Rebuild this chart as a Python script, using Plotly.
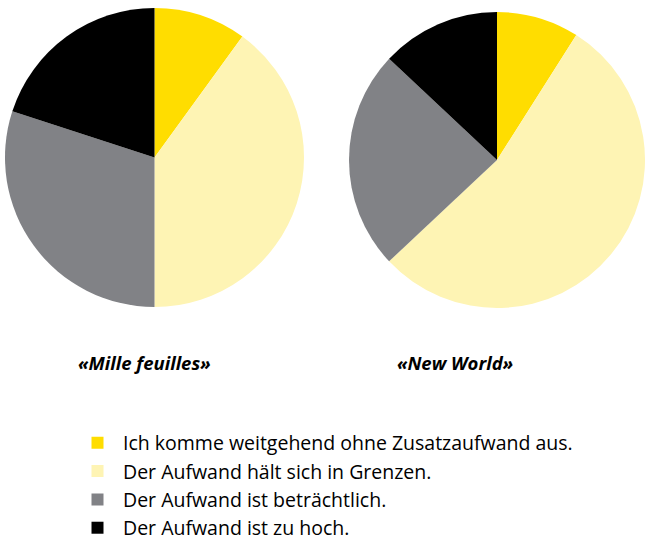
import plotly.graph_objects as go

labels = [
    "Ich komme weitgehend ohne Zusatzaufwand aus.",
    "Der Aufwand hält sich in Grenzen.",
    "Der Aufwand ist beträchtlich.",
    "Der Aufwand ist zu hoch.",
]
mille_feuilles = [10, 40, 30, 20]
new_world = [9, 54, 24, 13]
titles = ["«Mille feuilles»", "«New World»"]
colors = ["#FFDD00", "#FEF4B4", "#818286", "#000000"]

W, H = 645, 543

fig = go.Figure()
fig.add_trace(go.Pie(
    labels=labels, values=mille_feuilles, sort=False, direction="clockwise", rotation=0,
    marker=dict(colors=colors, line=dict(width=0)), textinfo="none",
    domain=dict(x=[5 / W, 304 / W], y=[(H - 307) / H, (H - 8) / H]),
    showlegend=True,
))
fig.add_trace(go.Pie(
    labels=labels, values=new_world, sort=False, direction="clockwise", rotation=0,
    marker=dict(colors=colors, line=dict(width=0)), textinfo="none",
    domain=dict(x=[349 / W, 1.0], y=[(H - 309) / H, (H - 11) / H]),
    showlegend=False,
))

for t, cx in zip(titles, [144, 455]):
    fig.add_annotation(text="<b><i>" + t + "</i></b>", x=cx / W, y=(H - 362) / H,
                       xref="paper", yref="paper", showarrow=False,
                       xanchor="center", yanchor="middle",
                       font=dict(size=18.5, color="#000000", family="Open Sans"))

fig.update_layout(
    width=W, height=H, margin=dict(l=0, r=0, t=0, b=0, autoexpand=False),
    paper_bgcolor="white", plot_bgcolor="white",
    font=dict(family="Open Sans", color="#000000"),
    legend=dict(x=72 / W, y=(H - 423.5) / H, xanchor="left", yanchor="top",
                font=dict(size=19.5, color="#000000"), traceorder="normal",
                itemwidth=41, bgcolor="rgba(0,0,0,0)"),
)

fig.write_html("out.html", config={"displayModeBar": False},
               post_script="document.body.style.margin='0';document.body.style.overflow='hidden';")
